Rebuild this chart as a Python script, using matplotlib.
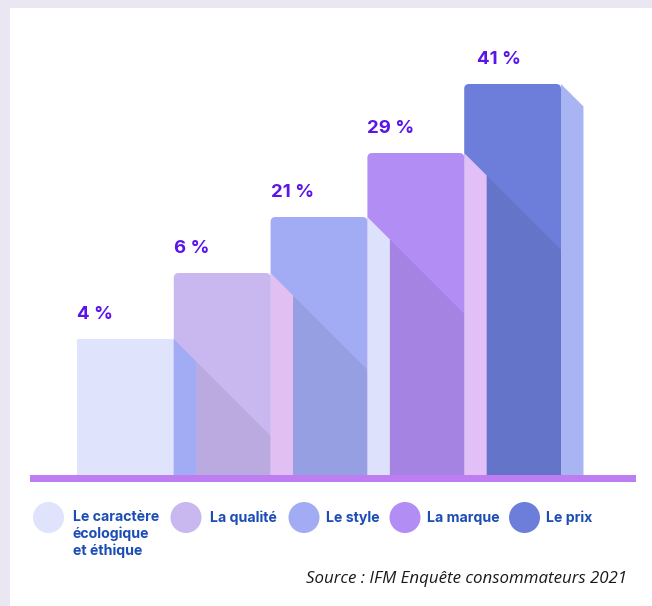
import numpy as np
import matplotlib.pyplot as plt
from matplotlib.patches import Rectangle, Polygon, FancyBboxPatch

# data
categories = ['Le caractère\nécologique\net éthique', 'La qualité', 'Le style', 'La marque', 'Le prix']
shares = [4, 6, 21, 29, 41]
# drawn heights of the bars (the design is stylised, not proportional to the %)
bar_heights = [136, 202, 258, 322, 391]

front_col = ['#DFE3FC', '#C9B7F0', '#A1ACF4', '#B18DF4', '#6C7ED9']
side_col = ['#A1ACF4', '#E1BFF3', '#DEE1FC', '#E2BFF6', '#A9B5F2']
label_col = '#5A16E8'
legend_txt_col = '#1B4DB4'

# layout (pixels of the 652x606 image)
W, H = 652, 606
x0_px, step_px = 77, 96.8      # left edge of first bar, bar period
base_px = 475                  # baseline (from top)
side_w = 0.232                 # side face width in bar units
label_shift = [0, 0, 0, 0, 0.13]
leg_circle_px = [48.5, 186, 304, 405, 524.5]
leg_text_px = [72.7, 210, 325.7, 426.7, 546]
leg_line_px = 16.6


def px2x(px):
    return (px - x0_px) / step_px


def px2y(py):
    return base_px - py


fig = plt.figure(figsize=(W / 100, H / 100), dpi=100, facecolor='#EAE7F3')
fig.add_artist(Rectangle((10 / W, 0), 1, (H - 8) / H, transform=fig.transFigure,
                         facecolor='white', edgecolor='none', zorder=-10))
ax = fig.add_axes([0, 0, 1, 1])
ax.set_facecolor('none')
ax.axis('off')
ax.set_xlim(px2x(0), px2x(W))
ax.set_ylim(px2y(H), px2y(0))

k = step_px  # y units per x unit for a 45 degree slope
drop = side_w * k
n = len(shares)

# fronts
for i in range(n):
    h = bar_heights[i]
    if i == 0:
        ax.add_patch(Rectangle((i, -6), 1, h + 6, facecolor=front_col[i], edgecolor='none', zorder=2))
    else:
        ax.add_patch(FancyBboxPatch((i, -6), 1, h + 6, boxstyle='round,pad=0,rounding_size=0.05',
                                    mutation_aspect=k, facecolor=front_col[i], edgecolor='none', zorder=2))

# shadows cast by the previous bar
for i in range(1, n):
    hp = bar_heights[i - 1]
    xs, xe = i + side_w, i + 1
    ys = hp - drop
    ye = hp - k * (xe - i)
    ax.add_patch(Polygon([(xs, ys), (xe, ye), (xe, -6), (xs, -6)], closed=True,
                         facecolor='black', alpha=0.07, edgecolor='none', zorder=3))

# side faces
for i in range(n):
    h = bar_heights[i]
    xr = i + 1
    ax.add_patch(Polygon([(xr, -6), (xr, h), (xr + side_w, h - drop), (xr + side_w, -6)],
                         closed=True, facecolor=side_col[i], edgecolor='none', zorder=4))

# baseline
ax.add_patch(Rectangle((px2x(30), -6.5), px2x(636) - px2x(30), 6.2,
                       facecolor='#BE7EF2', edgecolor='none', zorder=5))

# value labels
for i, (v, h) in enumerate(zip(shares, bar_heights)):
    ax.text(i + label_shift[i], h + 20, f'{v} %', ha='left', va='baseline',
            fontsize=13.4, fontweight='bold', family=['Inter', 'DejaVu Sans'],
            color=label_col, zorder=6)

# legend
for i, lab in enumerate(categories):
    ax.scatter(px2x(leg_circle_px[i]), px2y(517.5), s=(31 * 0.72) ** 2,
               color=front_col[i], edgecolor='none', zorder=6)
    # baseline alignment applies to the last line of a multi-line label
    nl = lab.count('\n')
    ax.text(px2x(leg_text_px[i]), px2y(521.8 + nl * leg_line_px), lab, ha='left', va='baseline',
            fontsize=10.2, fontweight='bold', family=['Inter', 'DejaVu Sans'],
            color=legend_txt_col, linespacing=1.2, zorder=6)

ax.text(px2x(627.5), px2y(582.7), 'Source : IFM Enquête consommateurs 2021',
        ha='right', va='baseline', fontsize=12.2, style='italic',
        family=['Open Sans', 'DejaVu Sans'], color='#1A1A1A')

fig.savefig('out.png', dpi=100, facecolor=fig.get_facecolor())
